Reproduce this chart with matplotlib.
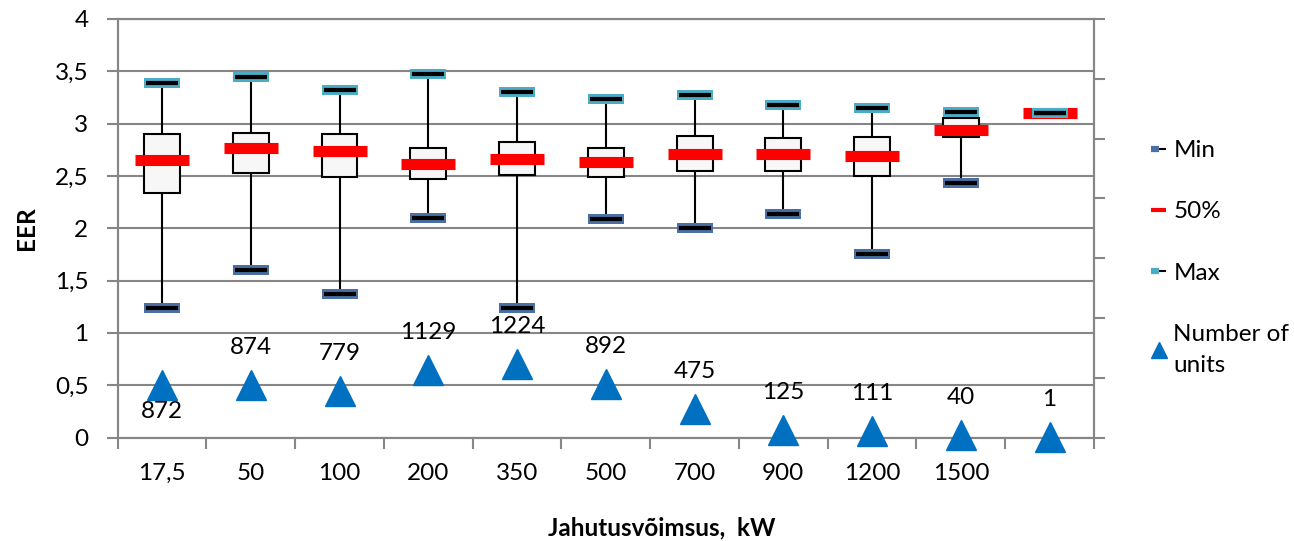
import numpy as np
import matplotlib
matplotlib.use('Agg')
import matplotlib.pyplot as plt
from matplotlib.lines import Line2D
from matplotlib.legend_handler import HandlerTuple
from matplotlib.ticker import FuncFormatter

plt.rcParams['font.family'] = ['Lato', 'DejaVu Sans']
plt.rcParams['font.size'] = 17.5

# EER by cooling capacity class
cats = ['17,5', '50', '100', '200', '350', '500', '700', '900', '1200', '1500', '']
eer_min = [1.24, 1.60, 1.37, 2.10, 1.24, 2.09, 2.00, 2.14, 1.75, 2.43, 3.10]
eer_q1 = [2.34, 2.53, 2.49, 2.47, 2.51, 2.49, 2.55, 2.55, 2.50, 2.87, 3.10]
eer_med = [2.65, 2.77, 2.74, 2.61, 2.66, 2.63, 2.71, 2.71, 2.69, 2.94, 3.10]
eer_q3 = [2.90, 2.91, 2.90, 2.77, 2.82, 2.77, 2.88, 2.86, 2.87, 3.05, 3.10]
eer_max = [3.39, 3.45, 3.32, 3.47, 3.30, 3.24, 3.27, 3.18, 3.15, 3.11, 3.10]
units = [872, 874, 779, 1129, 1224, 892, 475, 125, 111, 40, 1]

grey = '#868686'
c_min = '#4a6fa5'
c_max = '#4bacc6'
c_tri = '#0070c0'

x = np.arange(1, len(cats) + 1)

fig = plt.figure(figsize=(12.94, 5.41), dpi=100)
ax = fig.add_axes([0.0909, 0.1913, 0.7545, 0.7736])

# boxes + whiskers
ax.bar(x, np.array(eer_q3) - np.array(eer_q1), bottom=eer_q1, width=0.405,
       color='#f7f7f7', edgecolor='black', linewidth=1.5, zorder=3)
ax.vlines(x, eer_q3, eer_max, color='black', lw=1.5, zorder=2)
ax.vlines(x, eer_min, eer_q1, color='black', lw=1.5, zorder=2)

# median / min / max markers
ax.plot(x, eer_med, ls='none', marker='_', ms=39, mew=8, color='#ff0000', zorder=4)
ax.plot(x, eer_min, ls='none', marker='_', ms=26, mew=7.2, color=c_min, zorder=5)
ax.plot(x, eer_min, ls='none', marker='_', ms=23, mew=3, color='black', zorder=6)
ax.plot(x, eer_max, ls='none', marker='_', ms=26, mew=7.2, color=c_max, zorder=5)
ax.plot(x, eer_max, ls='none', marker='_', ms=23, mew=3, color='black', zorder=6)

ax.set_xlim(0.5, len(cats) + 0.5)
ax.set_ylim(0, 4)
ax.set_yticks(np.arange(0, 4.01, 0.5))
ax.yaxis.set_major_formatter(FuncFormatter(lambda v, p: ('%g' % v).replace('.', ',')))
ax.set_xticks(x)
ax.set_xticklabels(cats)
ax.set_xticks(np.arange(0.5, len(cats) + 1), minor=True)
ax.tick_params(axis='x', which='major', length=0, pad=18)
ax.tick_params(axis='x', which='minor', length=8, width=1.5, color=grey, direction='out')
ax.tick_params(axis='y', length=8, width=1.5, color=grey, direction='out', pad=13)
ax.grid(axis='y', color=grey, lw=1.5)
ax.set_axisbelow(True)
for s in ax.spines.values():
    s.set_color(grey)
    s.set_linewidth(1.5)

# number of units on secondary axis
ax2 = ax.twinx()
ax2.set_ylim(0, 7000)
ax2.set_yticks(np.arange(0, 7001, 1000))
ax2.set_yticklabels([])
ax2.tick_params(axis='y', length=8, width=1.5, color=grey, direction='out')
for s in ax2.spines.values():
    s.set_color(grey)
    s.set_linewidth(1.5)
ax2.plot(x, units, ls='none', marker='^', ms=21, color=c_tri, zorder=5, clip_on=False)
for i, (xi, n) in enumerate(zip(x, units)):
    if i == 0:
        ax2.annotate(str(n), (xi, n), xytext=(0, -19), textcoords='offset points',
                     ha='center', va='center')
    else:
        ax2.annotate(str(n), (xi, n), xytext=(0, 27), textcoords='offset points',
                     ha='center', va='center')

fig.text(27 / 1294, 1 - 228 / 541, 'EER', rotation=90, ha='center', va='center',
         fontweight='bold')
fig.text(662 / 1294, 1 - 528 / 541, 'Jahutusvõimsus,  kW', ha='center', va='center',
         fontweight='bold')

# legend
h_min = (Line2D([], [], color=c_min, lw=4.5, solid_capstyle='butt'),
         Line2D([], [], color='black', lw=1.5, solid_capstyle='butt'))
h_med = Line2D([], [], color='#ff0000', lw=3, solid_capstyle='butt')
h_max = (Line2D([], [], color=c_max, lw=4.5, solid_capstyle='butt'),
         Line2D([], [], color='black', lw=1.5, solid_capstyle='butt'))
h_tri = Line2D([], [], ls='none', marker='^', ms=11, color=c_tri)
leg = fig.legend([h_min, h_med, h_max, h_tri], ['Min', '50%', 'Max', 'Number of\nunits'],
                 handler_map={tuple: HandlerTuple(ndivide=None)},
                 loc='upper left', bbox_to_anchor=(1151 / 1294, 1 - 140 / 541),
                 frameon=False, borderpad=0, borderaxespad=0, handlelength=0.62,
                 handletextpad=0.3, labelspacing=1.66)
for t in leg.get_texts():
    t.set_linespacing(1.6)

fig.savefig('out.png', dpi=100)
